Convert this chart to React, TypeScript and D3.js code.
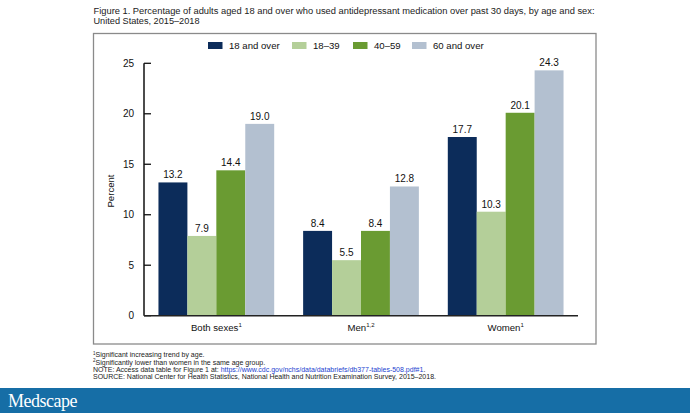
import React from "react";
import * as d3 from "d3";

const categories = ["Both sexes", "Men", "Women"];
const categorySup = ["1", "1,2", "1"];
const seriesNames = ["18 and over", "18–39", "40–59", "60 and over"];
const seriesColors = ["#0c2c5a", "#b4cf99", "#6a9b32", "#b3c0d0"];
const valAll = [13.2, 8.4, 17.7];
const val1839 = [7.9, 5.5, 10.3];
const val4059 = [14.4, 8.4, 20.1];
const val60 = [19.0, 12.8, 24.3];
const yTicks = [0, 5, 10, 15, 20, 25];

const seriesValues = [valAll, val1839, val4059, val60];

const FONT = "'Liberation Sans', Arial, Helvetica, sans-serif";

export default function App() {
  const W = 690, H = 413;
  const plotLeft = 144, plotRight = 578, plotTop = 63.3, plotBottom = 315.7;

  const x = d3.scaleBand<string>().domain(categories).range([plotLeft, plotRight]).paddingInner(0.2).paddingOuter(0.1);
  const xs = d3.scaleBand<string>().domain(seriesNames).range([0, x.bandwidth()]).padding(0);
  const y = d3.scaleLinear().domain([0, 25]).range([plotBottom, plotTop]);

  const legendX = [208, 292, 353, 412];

  return (
    <svg width={W} height={H} style={{ position: "absolute", left: 0, top: 0, background: "#fff" }} fontFamily={FONT}>
      <rect x={0} y={0} width={W} height={H} fill="#fff" />
      {/* Title */}
      <text x={93.5} y={13.5} fontSize={9.6} fill="#222" textLength={501} lengthAdjust="spacingAndGlyphs">
        Figure 1. Percentage of adults aged 18 and over who used antidepressant medication over past 30 days, by age and sex:
      </text>
      <text x={93.5} y={24} fontSize={9.6} fill="#222" textLength={106} lengthAdjust="spacingAndGlyphs">
        United States, 2015–2018
      </text>

      {/* Box */}
      <rect x={93.5} y={33.5} width={502.5} height={310.5} fill="none" stroke="#8a8a8a" strokeWidth={1.3} />

      {/* Legend */}
      {seriesNames.map((s, i) => (
        <g key={s}>
          <rect x={legendX[i]} y={42} width={14.5} height={7} fill={seriesColors[i]} />
          <text x={legendX[i] + 21} y={48.8} fontSize={9.6} fill="#111">{s}</text>
        </g>
      ))}

      {/* Y axis */}
      <line x1={plotLeft} x2={plotLeft} y1={plotTop} y2={plotBottom} stroke="#111" strokeWidth={1.5} />
      {yTicks.map((t) => (
        <g key={t}>
          <line x1={plotLeft} x2={plotLeft + 7} y1={y(t)} y2={y(t)} stroke="#111" strokeWidth={1.3} />
          <text x={134} y={y(t) + 3.5} fontSize={10} textAnchor="end" fill="#111">{t}</text>
        </g>
      ))}
      <text transform={`translate(114,191) rotate(-90)`} fontSize={9.6} textAnchor="middle" fill="#111">Percent</text>

      {/* Bars */}
      {categories.map((c, ci) => (
        <g key={c}>
          {seriesNames.map((s, si) => {
            const v = seriesValues[si][ci];
            const bx = (x(c) as number) + (xs(s) as number);
            return (
              <g key={s}>
                <rect x={bx} y={y(v)} width={xs.bandwidth()} height={plotBottom - y(v)} fill={seriesColors[si]} />
                <text x={bx + xs.bandwidth() / 2} y={y(v) - 4} fontSize={10} textAnchor="middle" fill="#111">
                  {v.toFixed(1)}
                </text>
              </g>
            );
          })}
          <text x={(x(c) as number) + x.bandwidth() / 2} y={330.8} fontSize={9.6} textAnchor="middle" fill="#111">
            {c}
            <tspan fontSize={6} dy={-4}>{categorySup[ci]}</tspan>
          </text>
        </g>
      ))}
      <line x1={plotLeft} x2={plotRight} y1={plotBottom} y2={plotBottom} stroke="#222" strokeWidth={1.5} />

      {/* Footnotes */}
      <text x={93} y={357} fontSize={7} fill="#222">
        <tspan fontSize={4.5} dy={-2.5}>1</tspan>
        <tspan dy={2.5}>Significant increasing trend by age.</tspan>
      </text>
      <text x={93} y={364.5} fontSize={7} fill="#222">
        <tspan fontSize={4.5} dy={-2.5}>2</tspan>
        <tspan dy={2.5}>Significantly lower than women in the same age group.</tspan>
      </text>
      <text x={93} y={371.5} fontSize={7} fill="#222">
        NOTE: Access data table for Figure 1 at: <tspan fill="#1d3fd0">https://www.cdc.gov/nchs/data/databriefs/db377-tables-508.pdf#1</tspan>.
      </text>
      <text x={93} y={378.5} fontSize={7} fill="#222" textLength={343} lengthAdjust="spacingAndGlyphs">
        SOURCE: National Center for Health Statistics, National Health and Nutrition Examination Survey, 2015–2018.
      </text>

      {/* Medscape band */}
      <rect x={0} y={388} width={W} height={H - 388} fill="#166ea6" />
      <text x={8} y={407} fontSize={18} fill="#fff" fontFamily="'Liberation Serif', 'DejaVu Serif', serif" letterSpacing={-0.5} textLength={69} lengthAdjust="spacingAndGlyphs">
        Medscape
      </text>
    </svg>
  );
}
